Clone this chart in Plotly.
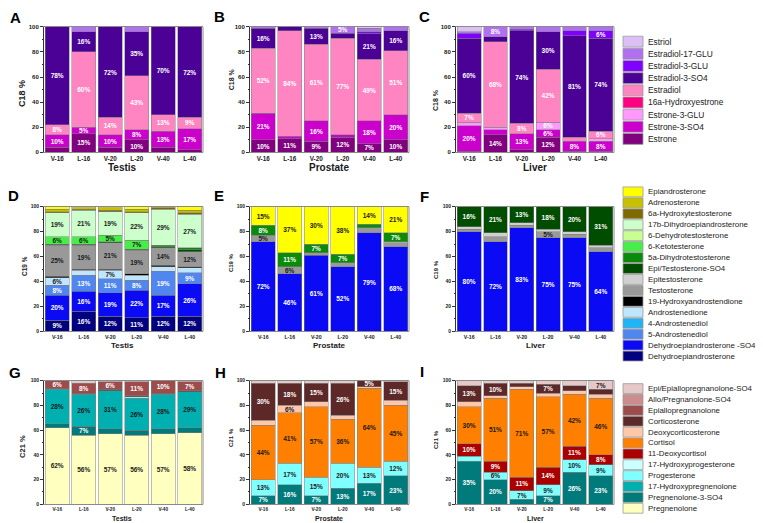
import plotly.graph_objects as go

W, H = 763, 523
FONT = "Liberation Sans, Arial, sans-serif"

samples = ["V-16", "L-16", "V-20", "L-20", "V-40", "L-40"]
tissues = ["Testis", "Prostate", "Liver"]

# ---------------- C18 (bottom -> top) ----------------
c18_names = ["Estrone", "Estrone-3-SO4", "Estrone-3-GLU", "16a-Hydroxyestrone", "Estradiol",
             "Estradiol-3-SO4", "Estradiol-3-GLU", "Estradiol-17-GLU", "Estriol"]
c18_colors = ["#800080", "#CC00CC", "#FF99FF", "#FF0080", "#FF85C2",
              "#4B0096", "#7F00FF", "#B070F0", "#DCC0F5"]
c18_textcol = ["white"] * 9

c18_testis = {
    "Estrone":          [4, 15, 4, 10, 4, 2],
    "Estrone-3-SO4":    [10, 5, 10, 8, 13, 17],
    "Estradiol":        [8, 60, 14, 43, 13, 9],
    "Estradiol-3-SO4":  [78, 16, 72, 35, 70, 72],
    "Estradiol-17-GLU": [0, 4, 0, 4, 0, 0],
}
c18_prostate = {
    "Estrone":          [10, 11, 9, 12, 7, 10],
    "Estrone-3-SO4":    [21, 2, 16, 2, 18, 20],
    "Estradiol":        [52, 84, 61, 77, 49, 51],
    "Estradiol-3-SO4":  [16, 3, 13, 4, 21, 16],
    "Estradiol-3-GLU":  [0, 0, 0, 0, 1, 0],
    "Estradiol-17-GLU": [1, 0, 1, 5, 3, 3],
    "Estriol":          [0, 0, 0, 0, 1, 0],
}
c18_liver = {
    "Estrone":          [1, 14, 2, 12, 1, 1],
    "Estrone-3-SO4":    [20, 4, 13, 6, 8, 8],
    "Estrone-3-GLU":    [3, 2, 0, 6, 0, 2],
    "Estradiol":        [7, 68, 8, 42, 3, 6],
    "Estradiol-3-SO4":  [60, 4, 74, 30, 81, 74],
    "Estradiol-3-GLU":  [4, 0, 1, 0, 4, 6],
    "Estradiol-17-GLU": [1, 8, 2, 4, 3, 3],
    "Estriol":          [4, 0, 0, 0, 0, 0],
}

# ---------------- C19 (bottom -> top) ----------------
c19_names = ["Dehydroepiandrosterone", "Dehydroepiandrosterone -SO4", "5-Androstenediol",
             "4-Androstenediol", "Androstenedione", "19-Hydroxyandrostendione", "Testosterone",
             "Epitestosterone", "Epi/Testosterone-SO4", "5a-Dihydrotestosterone", "6-Ketotesterone",
             "6-Dehydrotestosterone", "17b-Dihydroepiandrosterone", "6a-Hydroxytestosterone",
             "Adrenosterone", "Epiandrosterone"]
c19_colors = ["#000080", "#0A0AF5", "#4F86F0", "#1EB4F5", "#BFE6FF", "#000000", "#999999",
              "#D0D0D0", "#004D00", "#0A8C0A", "#48EE48", "#C8FF90", "#CCFFCC", "#7F6A00",
              "#C8C000", "#FFFF00"]
c19_textcol = ["white", "white", "white", "#1a1a1a", "#1a1a1a", "white", "#1a1a1a", "#1a1a1a",
               "white", "white", "#1a1a1a", "#1a1a1a", "#1a1a1a", "white", "#1a1a1a", "#1a1a1a"]

c19_testis = {
    "Dehydroepiandrosterone":      [9, 16, 12, 11, 12, 12],
    "Dehydroepiandrosterone -SO4": [20, 16, 19, 22, 17, 26],
    "5-Androstenediol":            [8, 13, 11, 8, 19, 9],
    "Androstenedione":             [6, 4, 7, 4, 4, 4],
    "19-Hydroxyandrostendione":    [1, 1, 1, 1, 1, 1],
    "Testosterone":                [25, 19, 21, 19, 14, 12],
    "Epi/Testosterone-SO4":        [1, 1, 1, 1, 1, 2],
    "5a-Dihydrotestosterone":      [0, 0, 0, 0, 1, 1],
    "6-Ketotesterone":             [6, 6, 5, 7, 0, 0],
    "17b-Dihydroepiandrosterone":  [19, 21, 19, 22, 29, 27],
    "6a-Hydroxytestosterone":      [1, 1, 1, 1, 1, 1],
    "Adrenosterone":               [2, 1, 2, 2, 1, 2],
    "Epiandrosterone":             [2, 1, 1, 2, 0, 3],
}
c19_prostate = {
    "Dehydroepiandrosterone -SO4": [72, 46, 61, 52, 79, 68],
    "Testosterone":                [5, 6, 2, 3, 4, 3],
    "Epitestosterone":             [0, 0, 0, 0, 0, 1],
    "5a-Dihydrotestosterone":      [8, 11, 7, 7, 3, 7],
    "Epiandrosterone":             [15, 37, 30, 38, 14, 21],
}
c19_liver = {
    "Dehydroepiandrosterone -SO4": [80, 72, 83, 75, 75, 64],
    "Testosterone":                [2, 4, 2, 5, 3, 3],
    "Epitestosterone":             [2, 3, 2, 2, 2, 2],
    "Epi/Testosterone-SO4":        [16, 21, 13, 18, 20, 31],
}

# ---------------- C21 (bottom -> top) ----------------
c21_names = ["Pregnenolone", "Pregnenolone-3-SO4", "17-Hydroxypregnenolone", "Progesterone",
             "17-Hydroxyprogesterone", "11-Deoxycortisol", "Cortisol", "Deoxycorticosterone",
             "Corticosterone", "Epiallopregnanolone", "Allo/Pregnanolone-SO4",
             "Epi/Epiallopregnanolone-SO4"]
c21_colors = ["#FFFFC0", "#007A7A", "#00B0B0", "#80FFFF", "#CCFFFF", "#AA0000", "#FF8000",
              "#FFC6AA", "#5C2828", "#9E4B4B", "#CC8C8C", "#E6C8C8"]
c21_textcol = ["#1a1a1a", "white", "#1a1a1a", "#1a1a1a", "#1a1a1a", "white", "#1a1a1a",
               "#1a1a1a", "white", "white", "#1a1a1a", "#1a1a1a"]

c21_testis = {
    "Pregnenolone":                [62, 56, 57, 56, 57, 58],
    "Pregnenolone-3-SO4":          [3, 7, 4, 4, 4, 4],
    "17-Hydroxypregnenolone":      [28, 26, 31, 26, 28, 29],
    "Progesterone":                [0, 0, 0, 1, 0, 0],
    "Corticosterone":              [1, 1, 1, 1, 1, 1],
    "Epiallopregnanolone":         [6, 8, 6, 11, 10, 7],
    "Epi/Epiallopregnanolone-SO4": [0, 2, 1, 1, 0, 1],
}
c21_prostate = {
    "Pregnenolone-3-SO4":          [7, 16, 7, 13, 17, 23],
    "Progesterone":                [13, 17, 15, 20, 13, 12],
    "Cortisol":                    [44, 41, 57, 36, 64, 45],
    "Deoxycorticosterone":         [4, 6, 4, 3, 1, 4],
    "Corticosterone":              [30, 18, 15, 26, 5, 15],
    "Epi/Epiallopregnanolone-SO4": [2, 2, 2, 2, 0, 1],
}
c21_liver = {
    "Pregnenolone-3-SO4":          [35, 20, 4, 7, 26, 23],
    "Progesterone":                [4, 6, 7, 9, 10, 9],
    "11-Deoxycortisol":            [10, 9, 11, 14, 11, 8],
    "Cortisol":                    [30, 51, 71, 57, 42, 46],
    "Deoxycorticosterone":         [4, 2, 2, 3, 3, 3],
    "Corticosterone":              [13, 10, 3, 7, 4, 4],
    "Epi/Epiallopregnanolone-SO4": [4, 2, 2, 3, 4, 7],
}

groups = [
    (c18_names, c18_colors, c18_textcol, [c18_testis, c18_prostate, c18_liver], "C18 %"),
    (c19_names, c19_colors, c19_textcol, [c19_testis, c19_prostate, c19_liver], "C19 %"),
    (c21_names, c21_colors, c21_textcol, [c21_testis, c21_prostate, c21_liver], "C21 %"),
]

# ---------------- layout geometry (pixels) ----------------
def X(px):
    return px / W


def Y(py):
    return 1 - py / H


col_px = [(36, 195), (242, 401), (448, 606)]
row_px = [(16, 143), (198, 324), (374, 499)]
xtick_size = [6.3, 5.2, 4.7]
ytick_size = [6, 5, 5]

fig = go.Figure()
layout = dict(
    width=W, height=H, autosize=False,
    margin=dict(l=0, r=0, t=0, b=0),
    paper_bgcolor="white", plot_bgcolor="white",
    barmode="stack", bargap=0.1, showlegend=False,
    uniformtext=dict(minsize=6.5, mode="show"),
    font=dict(family=FONT, color="#1a1a1a"),
)
shapes, annotations = [], []

for r, (names, colors, tcols, datas, ytitle) in enumerate(groups):
    for c in range(3):
        idx = r * 3 + c + 1
        sfx = "" if idx == 1 else str(idx)
        data = datas[c]
        for name, color, tc in zip(names, colors, tcols):
            if name not in data:
                continue
            vals = [v if v > 0 else None for v in data[name]]
            fig.add_trace(go.Bar(
                x=samples, y=vals, name=name,
                marker=dict(color=color, line=dict(color="#808080", width=0.5)),
                text=[f"{v}%" if (v or 0) >= 5 else "" for v in data[name]],
                textposition="inside", insidetextanchor="middle", textangle=0,
                textfont=dict(color=tc, size=6.5, family=FONT, weight="bold"),
                xaxis=f"x{sfx}", yaxis=f"y{sfx}", hoverinfo="skip",
            ))
        x0, x1 = col_px[c]
        y0, y1 = row_px[r]
        layout[f"xaxis{sfx}"] = dict(
            domain=[X(x0), X(x1)], anchor=f"y{sfx}", range=[-0.5, 5.5],
            showline=True, linecolor="#8a8a8a", linewidth=1, mirror=True,
            ticks="", showgrid=False, zeroline=False,
            tickfont=dict(size=xtick_size[r], family=FONT, weight="bold", color="#1a1a1a"),
        )
        layout[f"yaxis{sfx}"] = dict(
            domain=[Y(y1), Y(y0)], anchor=f"x{sfx}", range=[0, 100],
            tickvals=[0, 20, 40, 60, 80, 100], ticks="outside", ticklen=3,
            tickcolor="#333", showline=True, linecolor="#333", linewidth=1,
            minor=dict(dtick=10, ticks="outside", ticklen=1.5, tickcolor="#333"),
            showgrid=False, zeroline=False,
            tickfont=dict(size=ytick_size[r], family=FONT, weight="bold", color="#1a1a1a"),
        )
        shapes.append(dict(type="line", xref=f"x{sfx} domain", yref=f"y{sfx} domain",
                           x0=1, x1=1, y0=0, y1=1, line=dict(color="#8a8a8a", width=1)))

# panel letters
letters = [("A", 7, 7), ("B", 211, 6), ("C", 416, 6), ("D", 6, 187), ("E", 211, 187),
           ("F", 417, 188), ("G", 7, 366), ("H", 212, 366), ("I", 414, 365)]
for t, px, py in letters:
    annotations.append(dict(text=t, x=X(px), y=Y(py), xref="paper", yref="paper",
                            showarrow=False, xanchor="center", yanchor="middle",
                            font=dict(size=15, family=FONT, weight="bold", color="black")))

# y titles
ytitles = [("C18 %", 14, 84, 9), ("C18 %", 223, 69, 7), ("C18 %", 428, 90, 7),
           ("C19 %", 16, 258, 6.5), ("C19 %", 223, 255, 6), ("C19 %", 428, 262, 6),
           ("C21 %", 15, 441, 7.5), ("C21 %", 223, 432, 6), ("C21 %", 428, 434, 6)]
for t, px, py, fs in ytitles:
    annotations.append(dict(text=t, x=X(px), y=Y(py), xref="paper", yref="paper",
                            showarrow=False, textangle=-90, xanchor="center", yanchor="middle",
                            font=dict(size=fs, family=FONT, weight="bold", color="#1a1a1a")))

# x titles
xt_y = [158, 338, 513]
xt_size = [10, 8, 7]
xt_x = [114, 321, 527]
for r in range(3):
    for c in range(3):
        annotations.append(dict(text=tissues[c], x=X(xt_x[c]), y=Y(xt_y[r]), xref="paper",
                                yref="paper", showarrow=False, xanchor="center", yanchor="middle",
                                borderpad=0,
                                font=dict(size=xt_size[r], family=FONT, weight="bold",
                                          color="#1a1a1a")))

# custom legends
leg_specs = [(c18_names, c18_colors, 31, 12.3, 11, 8.4),
             (c19_names, c19_colors, 183, 11.07, 10, 7.9),
             (c21_names, c21_colors, 382, 11.0, 10, 7.9)]
for names, colors, ystart, step, sh, fs in leg_specs:
    for i, (name, color) in enumerate(zip(names[::-1], colors[::-1])):
        yc = ystart + i * step
        shapes.append(dict(type="rect", xref="paper", yref="paper",
                           x0=X(615), x1=X(635), y0=Y(yc + sh / 2), y1=Y(yc - sh / 2),
                           fillcolor=color, line=dict(color="#9a9a9a", width=0.8)))
        annotations.append(dict(text=name, x=X(638), y=Y(yc), xref="paper", yref="paper",
                                showarrow=False, xanchor="left", yanchor="middle",
                                font=dict(size=fs, family=FONT, color="#222")))

layout["shapes"] = shapes
layout["annotations"] = annotations
fig.update_layout(**layout)
fig.write_html("out.html")
